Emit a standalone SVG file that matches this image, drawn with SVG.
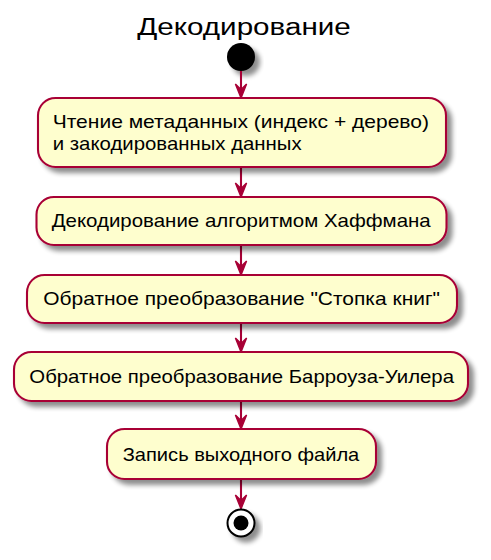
<svg xmlns="http://www.w3.org/2000/svg" width="491" height="560" viewBox="0 0 491 560">
<defs>
<filter id="sh" x="-20%" y="-20%" width="150%" height="160%">
<feGaussianBlur in="SourceAlpha" stdDeviation="2.8" result="b"/>
<feOffset in="b" dx="5" dy="5" result="o"/>
<feComponentTransfer in="o" result="c"><feFuncA type="linear" slope="0.45"/></feComponentTransfer>
<feMerge><feMergeNode in="c"/><feMergeNode in="SourceGraphic"/></feMerge>
</filter>
<style>
.box{fill:#FEFECE;stroke:#A80036;stroke-width:2.1;filter:url(#sh)}
.t{font-family:"Liberation Sans",Arial,sans-serif;font-size:18.5px;fill:#000}
.ln{stroke:#A80036;stroke-width:2.1;fill:none}
.hd{fill:#A80036;stroke:#A80036;stroke-width:1.4}
</style>
</defs>
<rect width="491" height="560" fill="#FFFFFF"/>
<text x="137.3" y="35" class="t" style="font-size:23px" textLength="213.4" lengthAdjust="spacingAndGlyphs">Декодирование</text>

<g id="start"><circle cx="241" cy="57" r="14" fill="#000" filter="url(#sh)"/></g>

<g id="connectors">
<line class="ln" x1="241" y1="71" x2="241" y2="95"/>
<path class="hd" d="M241,98 L235.4,84 L241,89.6 L246.6,84 Z"/>
<line class="ln" x1="241" y1="167" x2="241" y2="194"/>
<path class="hd" d="M241,197 L235.4,183 L241,188.6 L246.6,183 Z"/>
<line class="ln" x1="241" y1="245" x2="241" y2="272"/>
<path class="hd" d="M241,275 L235.4,261 L241,266.6 L246.6,261 Z"/>
<line class="ln" x1="241" y1="323" x2="241" y2="349"/>
<path class="hd" d="M241,352 L235.4,338 L241,343.6 L246.6,338 Z"/>
<line class="ln" x1="241" y1="401" x2="241" y2="426"/>
<path class="hd" d="M241,429 L235.4,415 L241,420.6 L246.6,415 Z"/>
<line class="ln" x1="241" y1="479" x2="241" y2="506"/>
<path class="hd" d="M241,509 L235.4,495 L241,500.6 L246.6,495 Z"/>
</g>

<g id="n1"><rect class="box" x="38" y="98" width="408" height="69" rx="17.5"/>
<text class="t" x="52.7" y="128" textLength="376.3" lengthAdjust="spacingAndGlyphs">Чтение метаданных (индекс + дерево)</text>
<text class="t" x="52.7" y="149.5" textLength="249" lengthAdjust="spacingAndGlyphs">и закодированных данных</text></g>

<g id="n2"><rect class="box" x="36.5" y="197" width="410" height="48" rx="17.5"/>
<text class="t" x="51.7" y="227" textLength="379" lengthAdjust="spacingAndGlyphs">Декодирование алгоритмом Хаффмана</text></g>

<g id="n3"><rect class="box" x="27" y="275" width="430" height="48" rx="17.5"/>
<text class="t" x="43.3" y="305" textLength="396.7" lengthAdjust="spacingAndGlyphs">Обратное преобразование "Стопка книг"</text></g>

<g id="n4"><rect class="box" x="14" y="352" width="454" height="49" rx="17.5"/>
<text class="t" x="29.3" y="383" textLength="424.7" lengthAdjust="spacingAndGlyphs">Обратное преобразование Барроуза-Уилера</text></g>

<g id="n5"><rect class="box" x="107" y="429" width="269" height="50" rx="17.5"/>
<text class="t" x="122.7" y="460.5" textLength="236.6" lengthAdjust="spacingAndGlyphs">Запись выходного файла</text></g>

<g id="end"><circle cx="241" cy="523" r="13.5" fill="#FFFFFF" stroke="#000" stroke-width="2" filter="url(#sh)"/>
<circle cx="241" cy="523" r="7.5" fill="#000"/></g>
</svg>
